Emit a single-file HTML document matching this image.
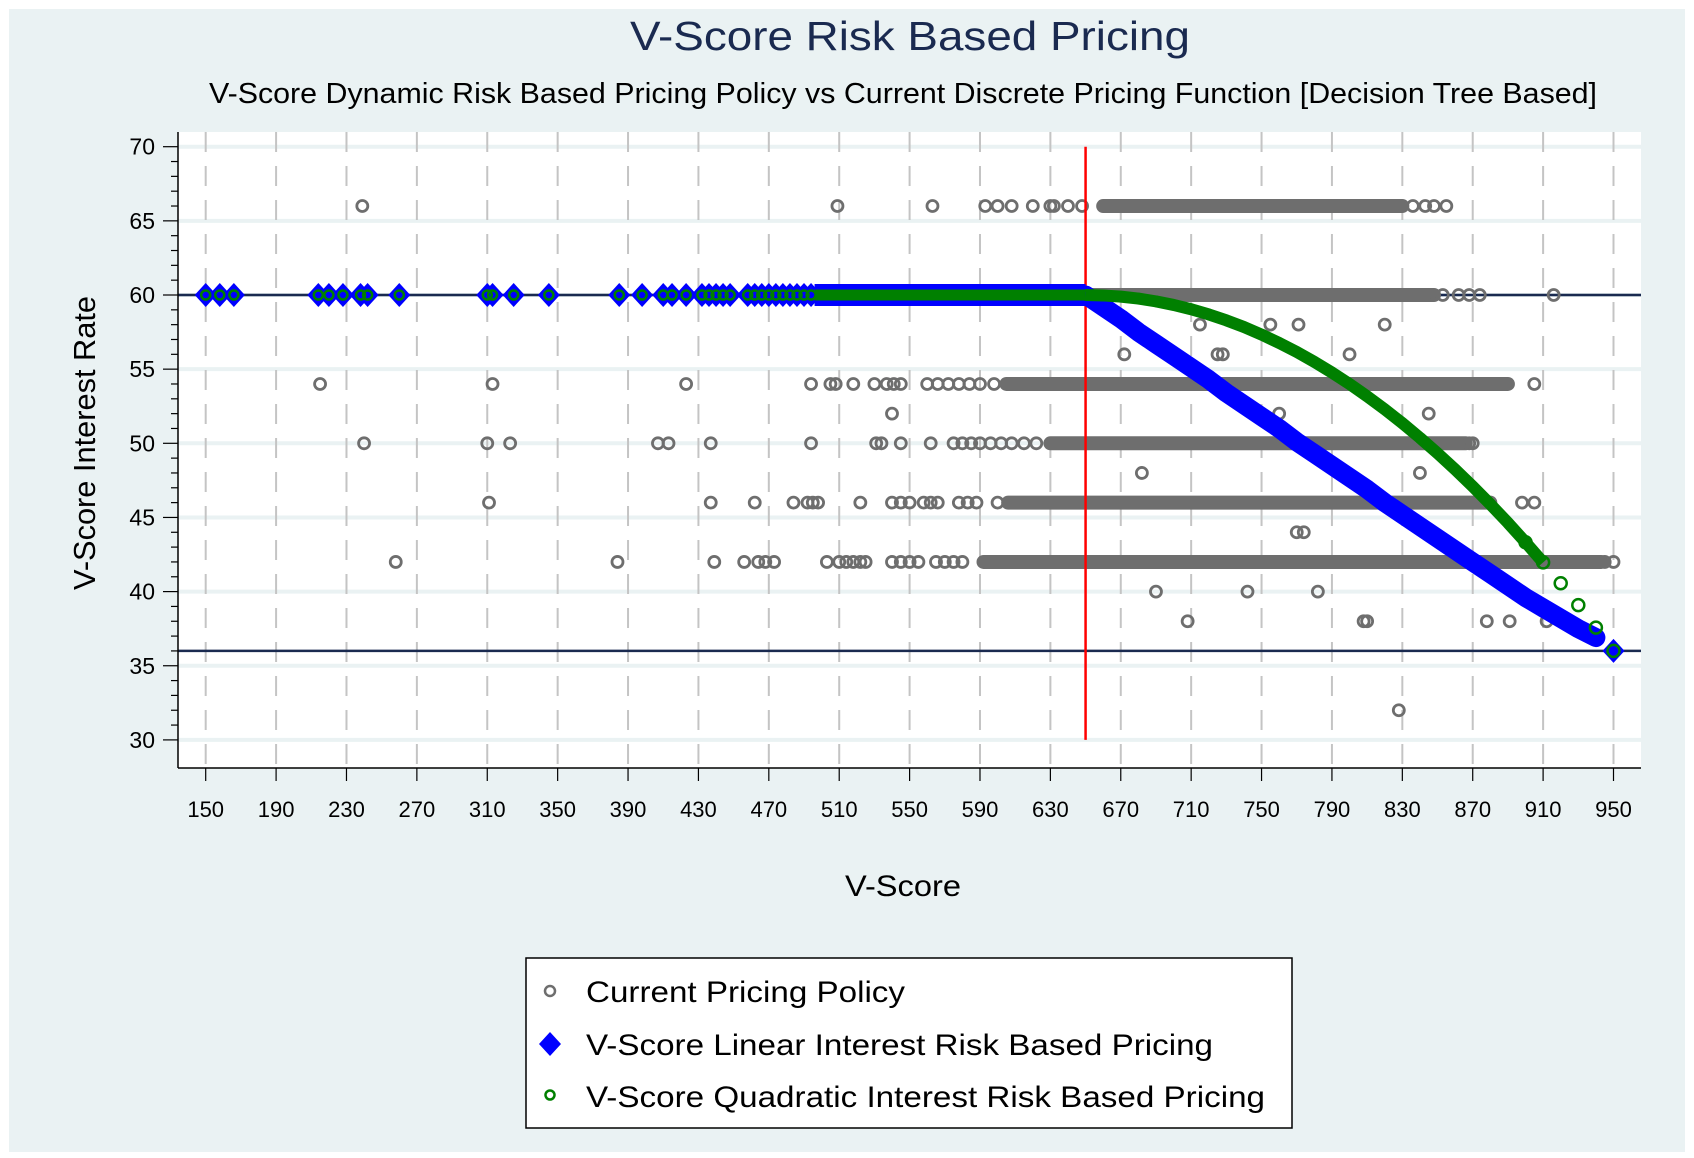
<!DOCTYPE html>
<html><head><meta charset="utf-8"><style>
html,body{margin:0;padding:0;background:#fff}
svg{display:block;font-family:"Liberation Sans",sans-serif}
</style></head><body>
<svg id="chart" width="1694" height="1158">
<rect x="9" y="9" width="1676" height="1143" fill="#eaf2f3"/>
<rect x="178" y="132" width="1463" height="636" fill="#fff"/>
<text x="910" y="50" text-anchor="middle" font-size="41" fill="#1a2a50" textLength="560" lengthAdjust="spacingAndGlyphs">V-Score Risk Based Pricing</text>
<text x="903" y="103" text-anchor="middle" font-size="29" fill="#000" textLength="1388" lengthAdjust="spacingAndGlyphs">V-Score Dynamic Risk Based Pricing Policy vs Current Discrete Pricing Function [Decision Tree Based]</text>
<g id="grid"></g>
<g id="axes"></g>
<g id="marks"></g>
<text x="903" y="896" text-anchor="middle" font-size="30" textLength="116" lengthAdjust="spacingAndGlyphs">V-Score</text>
<text x="0" y="0" transform="translate(95,443) rotate(-90)" text-anchor="middle" font-size="31" textLength="294" lengthAdjust="spacingAndGlyphs">V-Score Interest Rate</text>
<g>
<rect x="526" y="958" width="766" height="170" fill="#fff" stroke="#000" stroke-width="1.5"/>
<g><circle cx="550" cy="991" r="5" fill="none" stroke="#6e6e6e" stroke-width="2.5"/><text x="586" y="1002" font-size="30" textLength="319" lengthAdjust="spacingAndGlyphs">Current Pricing Policy</text></g>
<g><path d="M550 1032 L561 1044 L550 1056 L539 1044Z" fill="#0000ff"/><text x="586" y="1055" font-size="30" textLength="627" lengthAdjust="spacingAndGlyphs">V-Score Linear Interest Risk Based Pricing</text></g>
<g><circle cx="550" cy="1095" r="4.5" fill="none" stroke="#008000" stroke-width="2.5"/><text x="586" y="1107" font-size="30" textLength="679" lengthAdjust="spacingAndGlyphs">V-Score Quadratic Interest Risk Based Pricing</text></g>
</g>
</svg>
<script>
const xTicks=[150,190,230,270,310,350,390,430,470,510,550,590,630,670,710,750,790,830,870,910,950];
const yTicks=[30,35,40,45,50,55,60,65,70];
const refLines=[60,36];
const cutoffScore=650;
// current pricing policy: sparse points per rate, and dense segments per rate
const curRates=[66,60,58,56,54,52,50,48,46,44,42,40,38,32];
const curPoints=[
 [239,509,563,593,600,608,620,630,632,640,648,836,843,848,855],
 [847,853,862,868,874,916],
 [715,755,771,820],
 [672,725,728,800],
 [215,313,423,494,505,508,518,530,537,541,545,560,566,572,578,584,590,598,905],
 [540,760,845],
 [240,310,323,407,413,437,494,531,534,545,562,575,580,585,590,596,602,608,615,622,868,870],
 [682,840],
 [311,437,462,484,492,495,498,522,540,545,550,558,562,566,578,583,588,600,898,905],
 [770,774],
 [258,384,439,456,464,468,473,503,510,514,518,522,525,540,545,550,555,565,570,575,580,945,950],
 [690,742,782],
 [708,808,810,878,891,912],
 [828]
];
const curSegStart=[660,650,null,null,605,null,630,null,606,null,592,null,null,null];
const curSegEnd=[830,848,null,null,890,null,866,null,880,null,943,null,null,null];
// model series: flat part and curve part
const flatScores=[150,158,166,214,220,228,238,242,260,310,313,325,345,385,398,410,415,423,432,436,440,444,448,458,462,466,470,474,478,482,486,490,494];
const flatDenseStart=496, flatDenseEnd=650;
const curveScores=[650,660,670,680,690,700,710,720,730,740,750,760,770,780,790,800,810,820,830,840,850,860,870,880,890,900,910,920,930,940,950];
const linearRates=[60,59.2,58.4,57.5,56.7,55.9,55.1,54.3,53.4,52.6,51.8,51.0,50.1,49.3,48.5,47.7,46.9,46.0,45.2,44.4,43.6,42.8,42.0,41.2,40.4,39.6,38.9,38.2,37.5,36.9,36.0];
const quadRates=[60,59.97,59.89,59.76,59.57,59.33,59.04,58.69,58.29,57.84,57.33,56.77,56.16,55.49,54.77,54.0,53.17,52.29,51.36,50.37,49.33,48.24,47.09,45.89,44.64,43.33,41.97,40.56,39.09,37.57,36.0];

const NS='http://www.w3.org/2000/svg';
const X=v=>205.7+(v-150)*(1613.5-205.7)/800;
const Y=v=>146.7+(70-v)*74.15/5;
function mk(tag,at,parent){const e=document.createElementNS(NS,tag);for(const k in at)e.setAttribute(k,at[k]);parent.appendChild(e);return e;}
const grid=document.getElementById('grid'),axes=document.getElementById('axes'),marks=document.getElementById('marks');

yTicks.forEach(t=>{const l=mk('line',{x1:178,x2:1641,y1:Y(t),y2:Y(t),stroke:'#eaf2f3','stroke-width':4},grid);

});
xTicks.forEach(t=>{const l=mk('line',{x1:X(t),x2:X(t),y1:132,y2:768,stroke:'#c4c4c4','stroke-width':2,'stroke-dasharray':'20,14'},grid);

});
refLines.forEach(r=>{const l=mk('line',{x1:178,x2:1641,y1:Y(r),y2:Y(r),stroke:'#1a2a50','stroke-width':2.5},grid);

});

const ya=mk('line',{x1:178,x2:178,y1:132,y2:768,stroke:'#000','stroke-width':1.5},axes);


const xa=mk('line',{x1:178,x2:1641,y1:768,y2:768,stroke:'#000','stroke-width':1.5},axes);


for(let v=30;v<=70;v++){const major=v%5===0;mk('line',{x1:major?163:171,x2:178,y1:Y(v),y2:Y(v),stroke:'#000','stroke-width':1.2},axes);}
yTicks.forEach(t=>{const tx=mk('text',{x:155,y:Y(t)+8,'text-anchor':'end','font-size':23},axes);tx.textContent=t;

});
xTicks.forEach(t=>{mk('line',{x1:X(t),x2:X(t),y1:768,y2:781,stroke:'#000','stroke-width':1.2},axes);
const tx=mk('text',{x:X(t),y:817,'text-anchor':'middle','font-size':22},axes);tx.textContent=t;

});

const gCur=mk('g',{},marks);


function grayC(x,y){return mk('circle',{cx:X(x),cy:Y(y),r:5.5,fill:'none',stroke:'#6e6e6e','stroke-width':2.8},gCur);}
curRates.forEach((r,i)=>{
 if(curSegStart[i]!==null){const b=mk('line',{x1:X(curSegStart[i]),x2:X(curSegEnd[i]),y1:Y(r),y2:Y(r),stroke:'#6e6e6e','stroke-width':14,'stroke-linecap':'round'},gCur);
 
 }
 curPoints[i].forEach(x=>{const c=grayC(x,r);
 
 });
});
const rl=mk('line',{x1:X(cutoffScore),x2:X(cutoffScore),y1:Y(70),y2:Y(30),stroke:'#ff0000','stroke-width':2.5},marks);



const gLin=mk('g',{},marks);


const gQ=mk('g',{},marks);


function diamond(x,y,g){const cx=X(x),cy=Y(y);return mk('path',{d:`M${cx} ${cy-12}L${cx+11} ${cy}L${cx} ${cy+12}L${cx-11} ${cy}Z`,fill:'#0000ff'},g);}
function greenC(x,y,g,r){return mk('circle',{cx:X(x),cy:Y(y),r:r||4.5,fill:'none',stroke:'#008000','stroke-width':2.5},g);}
const fb=mk('line',{x1:X(flatDenseStart),x2:X(flatDenseEnd),y1:Y(60),y2:Y(60),stroke:'#0000ff','stroke-width':22},gLin);


flatScores.forEach(x=>{const d=diamond(x,60,gLin);

});
const ld=curveScores.slice(0,-1).map((x,i)=>`${i?'L':'M'}${X(x)} ${Y(linearRates[i])}`).join('');
const lp=mk('path',{d:ld,fill:'none',stroke:'#0000ff','stroke-width':19,'stroke-linejoin':'round','stroke-linecap':'round'},gLin);


const ld2=diamond(curveScores[curveScores.length-1],linearRates[linearRates.length-1],gLin);


const fq=mk('line',{x1:X(flatDenseStart),x2:X(flatDenseEnd),y1:Y(60),y2:Y(60),stroke:'#008000','stroke-width':11},gQ);


flatScores.forEach(x=>{const c=greenC(x,60,gQ);

});
const qd=curveScores.slice(0,-4).map((x,i)=>`${i?'L':'M'}${X(x)} ${Y(quadRates[i])}`).join('');
const qp=mk('path',{d:qd,fill:'none',stroke:'#008000','stroke-width':12,'stroke-linejoin':'round'},gQ);


curveScores.forEach((x,i)=>{const c=greenC(x,quadRates[i],gQ,x>=900?6:4.5);

});
</script>
</body></html>
